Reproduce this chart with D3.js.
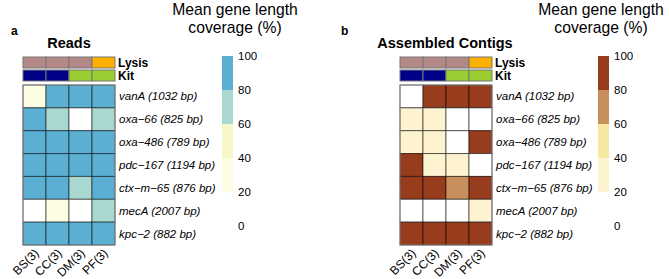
<!DOCTYPE html>
<html lang="en">
  <head>
    <meta charset="utf-8">
    <title></title>
    <script src="https://d3js.org/d3.v7.min.js"></script>
    <style>
      body { margin: 0; background: #fff; }
      text { font-family: "Liberation Sans", Arial, sans-serif; fill: #000; }
    </style>
  </head>
  <body>
    <script type="text/javascript">
    let w = 669;
    let h = 279;

    // data
    let genes = ["vanA (1032 bp)", "oxa\u221266 (825 bp)", "oxa\u2212486 (789 bp)", "pdc\u2212167 (1194 bp)",
                 "ctx\u2212m\u221265 (876 bp)", "mecA (2007 bp)", "kpc\u22122 (882 bp)"];
    let samples = ["BS(3)", "CC(3)", "DM(3)", "PF(3)"];
    let lysis = ["mech", "mech", "mech", "enz"];
    let kit = ["k1", "k1", "k2", "k2"];

    // rows = genes, cols = samples (mean % coverage)
    let readsCov = [
      [30, 95, 95, 95],
      [95, 70, 10, 70],
      [95, 95, 95, 95],
      [95, 95, 95, 95],
      [95, 95, 70, 95],
      [10, 30, 10, 70],
      [95, 95, 95, 95]
    ];
    let contigCov = [
      [10, 95, 95, 95],
      [30, 30, 10, 10],
      [30, 30, 10, 95],
      [95, 30, 30, 10],
      [95, 95, 70, 95],
      [10, 10, 10, 30],
      [95, 95, 95, 95]
    ];

    let breaks = [20, 40, 60, 80];
    let legendTicks = [0, 20, 40, 60, 80, 100];
    let readsColors = ["#ffffff", "#fdfde4", "#f6f8c8", "#a8d8d0", "#5aafd3"];
    let contigColors = ["#ffffff", "#fdf3d0", "#f6e8a2", "#c78f5b", "#973c1c"];

    let lysisColor = d3.scaleOrdinal().domain(["mech", "enz"]).range(["#b38887", "#fdb000"]);
    let kitColor = d3.scaleOrdinal().domain(["k1", "k2"]).range(["#000088", "#9acd32"]);

    let svg = d3.select("body")
                .append("svg")
                .attr("width", w)
                .attr("height", h);

    let yScale = d3.scaleBand()
                  .domain(genes)
                  .range([85, 245]);

    function panel(opt) {
      let g = svg.append("g");
      let xScale = d3.scaleBand()
                    .domain(samples)
                    .range([opt.x0, opt.x0 + 92]);
      let color = d3.scaleThreshold().domain(breaks).range(opt.colors);

      g.append("text").text(opt.letter)
        .attr("x", opt.letterX).attr("y", 35)
        .style("font-weight", "bold").style("font-size", "12px");
      g.append("text").text(opt.title)
        .attr("x", opt.titleX).attr("y", 48)
        .attr("text-anchor", "middle")
        .style("font-weight", "bold").style("font-size", "14.5px");

      // annotation bars
      let ann = [{key: "Lysis", vals: lysis, c: lysisColor, y: 57},
                 {key: "Kit", vals: kit, c: kitColor, y: 70}];
      ann.forEach(a => {
        g.selectAll(null)
          .data(a.vals)
          .enter()
          .append("rect")
          .attr("x", (d, i) => xScale(samples[i]))
          .attr("y", a.y)
          .attr("width", xScale.bandwidth())
          .attr("height", 11)
          .attr("fill", d => a.c(d))
          .attr("stroke", "#777")
          .attr("stroke-width", 1);
        g.append("text").text(a.key)
          .attr("x", opt.x0 + 95).attr("y", a.y + 10)
          .style("font-weight", "bold").style("font-size", "12px");
      });

      // heatmap cells
      let cells = [];
      opt.data.forEach((row, r) => row.forEach((v, c) => cells.push({gene: genes[r], sample: samples[c], v: v})));
      g.selectAll(".cell")
        .data(cells)
        .enter()
        .append("rect")
        .attr("class", "cell")
        .attr("x", d => xScale(d.sample))
        .attr("y", d => yScale(d.gene))
        .attr("width", xScale.bandwidth())
        .attr("height", yScale.bandwidth())
        .attr("fill", d => color(d.v))
        .attr("stroke", "rgba(0,0,0,0.55)")
        .attr("stroke-width", 1);
      g.append("rect")
        .attr("x", opt.x0).attr("y", 85)
        .attr("width", 92).attr("height", 160)
        .attr("fill", "none")
        .attr("stroke", "#888");

      // gene labels
      g.selectAll(".gene")
        .data(genes)
        .enter()
        .append("text")
        .attr("class", "gene")
        .text(d => d)
        .attr("x", opt.x0 + 96)
        .attr("y", d => yScale(d) + yScale.bandwidth() / 2 + 4)
        .style("font-style", "italic").style("font-size", "11.5px");

      // sample labels
      g.selectAll(".samp")
        .data(samples)
        .enter()
        .append("text")
        .attr("class", "samp")
        .text(d => d)
        .attr("text-anchor", "end")
        .attr("transform", d => "translate(" + (xScale(d) + xScale.bandwidth() / 2 + 5) + ",254) rotate(-45)")
        .style("font-size", "12px");

      // legend
      let lx = opt.legendX;
      let ly = d3.scaleLinear().domain([0, 100]).range([226, 56]);
      let bins = breaks.map((b, i) => [b, i < breaks.length - 1 ? breaks[i + 1] : 100]);
      g.selectAll(".bin")
        .data(bins)
        .enter()
        .append("rect")
        .attr("class", "bin")
        .attr("x", lx)
        .attr("y", d => ly(d[1]))
        .attr("width", 11)
        .attr("height", d => ly(d[0]) - ly(d[1]))
        .attr("fill", d => color(d[0]));
      let axis = g.append("g")
        .attr("transform", "translate(" + (lx + 11) + ",0)")
        .call(d3.axisRight(ly).tickValues(legendTicks).tickSize(0).tickPadding(5));
      axis.select(".domain").remove();
      axis.selectAll("text").style("font-size", "11.5px").style("font-family", "Liberation Sans, Arial, sans-serif");

      g.append("text").text("Mean gene length")
        .attr("x", opt.legTitleX).attr("y", 15)
        .attr("text-anchor", "middle").style("font-size", "15.7px");
      g.append("text").text("coverage (%)")
        .attr("x", opt.legTitleX).attr("y", 33)
        .attr("text-anchor", "middle").style("font-size", "15.7px");
    }

    panel({x0: 23, letter: "a", letterX: 11, title: "Reads", titleX: 69, data: readsCov, colors: readsColors,
           legendX: 222, legTitleX: 235});
    panel({x0: 400, letter: "b", letterX: 341, title: "Assembled Contigs", titleX: 445, data: contigCov, colors: contigColors,
           legendX: 598, legTitleX: 601});
    </script>
  </body>
</html>
